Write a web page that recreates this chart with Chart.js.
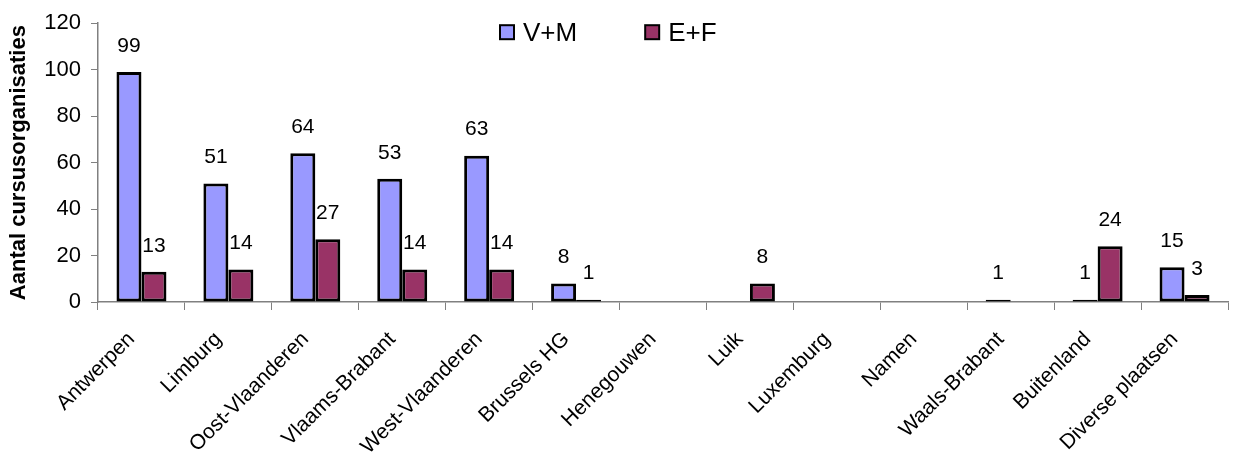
<!DOCTYPE html>
<html>
<head>
<meta charset="utf-8">
<script src="https://cdn.jsdelivr.net/npm/chart.js@4.4.0/dist/chart.umd.min.js"></script>
<style>
    body { margin: 0; background: #ffffff; }
    #wrap { width: 1240px; height: 459px; }
</style>
</head>
<body>
<div id="wrap"><canvas id="chart" width="1240" height="459"></canvas></div>
<script>
// Categories and values
const categories = [
    'Antwerpen', 'Limburg', 'Oost-Vlaanderen', 'Vlaams-Brabant', 'West-Vlaanderen',
    'Brussels HG', 'Henegouwen', 'Luik', 'Luxemburg', 'Namen',
    'Waals-Brabant', 'Buitenland', 'Diverse plaatsen'
];
const valuesVM = [99, 51, 64, 53, 63, 8, 0, 0, 0, 0, 1, 1, 15];
const valuesEF = [13, 14, 27, 14, 14, 1, 0, 8, 0, 0, 0, 24, 3];
const yMin = 0;
const yMax = 120;
const yStep = 20;

const FONT = 'Arial, "Liberation Sans", sans-serif';

// value labels above every bar that is not zero
const valueLabels = {
    id: 'valueLabels',
    afterDatasetsDraw(chart) {
        const ctx = chart.ctx;
        ctx.save();
        ctx.font = '21px ' + FONT;
        ctx.fillStyle = '#000000';
        ctx.textAlign = 'center';
        ctx.textBaseline = 'middle';
        chart.data.datasets.forEach((ds, i) => {
            chart.getDatasetMeta(i).data.forEach((bar, j) => {
                if (ds.data[j] > 0) {
                    ctx.fillText(String(ds.data[j]), bar.x, bar.y - 26);
                }
            });
        });
        ctx.restore();
    }
};

// legend sits inside the plot, near the top
const topLegend = {
    id: 'topLegend',
    afterDraw(chart) {
        const ctx = chart.ctx;
        const area = chart.chartArea;
        let x = area.left + 402;
        const y = area.top + 9;
        ctx.save();
        ctx.font = '26px ' + FONT;
        ctx.textBaseline = 'middle';
        chart.data.datasets.forEach(ds => {
            ctx.fillStyle = ds.backgroundColor;
            ctx.fillRect(x, y - 7, 14, 14);
            ctx.strokeStyle = '#000000';
            ctx.lineWidth = 2;
            ctx.strokeRect(x, y - 7, 14, 14);
            ctx.fillStyle = '#000000';
            ctx.fillText(ds.label, x + 23, y + 2);
            x += 23 + ctx.measureText(ds.label).width + 68;
        });
        ctx.restore();
    }
};

new Chart(document.getElementById('chart').getContext('2d'), {
    type: 'bar',
    data: {
        labels: categories,
        datasets: [
            {
                label: 'V+M',
                data: valuesVM,
                backgroundColor: '#9999ff',
                borderColor: '#000000',
                borderWidth: 3,
                borderSkipped: false,
                categoryPercentage: 0.575,
                barPercentage: 1.0
            },
            {
                label: 'E+F',
                data: valuesEF,
                backgroundColor: '#993366',
                borderColor: '#000000',
                borderWidth: 3,
                borderSkipped: false,
                categoryPercentage: 0.575,
                barPercentage: 1.0
            }
        ]
    },
    options: {
        responsive: false,
        animation: false,
        layout: {
            padding: { top: 22, right: 12, bottom: 0, left: 0 }
        },
        plugins: {
            legend: { display: false },
            tooltip: { enabled: false }
        },
        scales: {
            x: {
                afterFit: scale => { scale.height = 157; },
                grid: {
                    offset: true,
                    drawOnChartArea: false,
                    drawTicks: true,
                    tickLength: 8,
                    color: '#808080'
                },
                border: { display: true, color: '#808080', width: 1.5 },
                ticks: {
                    color: '#000000',
                    font: { family: FONT, size: 21 },
                    maxRotation: 45,
                    minRotation: 45,
                    autoSkip: false,
                    labelOffset: -10,
                    padding: 17
                }
            },
            y: {
                min: yMin,
                max: yMax,
                afterFit: scale => { scale.width = 98; },
                grid: {
                    drawOnChartArea: false,
                    drawTicks: true,
                    tickLength: 7,
                    color: '#808080'
                },
                border: { display: true, color: '#808080', width: 1.5 },
                ticks: {
                    stepSize: yStep,
                    color: '#000000',
                    font: { family: FONT, size: 22 },
                    padding: 10
                },
                title: {
                    display: true,
                    text: 'Aantal cursusorganisaties',
                    color: '#000000',
                    font: { family: FONT, size: 22, weight: 'bold' },
                    padding: { top: 6, bottom: 0 }
                }
            }
        }
    },
    plugins: [valueLabels, topLegend]
});
</script>
</body>
</html>
